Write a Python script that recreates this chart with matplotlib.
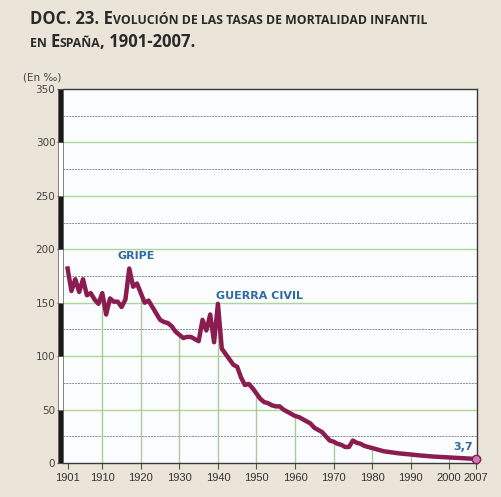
import numpy as np
import matplotlib.pyplot as plt
from matplotlib.patches import Rectangle

# infant mortality rate (per thousand)
years = [1901, 1902, 1903, 1904, 1905, 1906, 1907, 1908, 1909, 1910,
         1911, 1912, 1913, 1914, 1915, 1916, 1917, 1918, 1919, 1920,
         1921, 1922, 1923, 1924, 1925, 1926, 1927, 1928, 1929, 1930,
         1931, 1932, 1933, 1934, 1935, 1936, 1937, 1938, 1939, 1940,
         1941, 1942, 1943, 1944, 1945, 1946, 1947, 1948, 1949, 1950,
         1951, 1952, 1953, 1954, 1955, 1956, 1957, 1958, 1959, 1960,
         1961, 1962, 1963, 1964, 1965, 1966, 1967, 1968, 1969, 1970,
         1971, 1972, 1973, 1974, 1975, 1976, 1977, 1978, 1979, 1980,
         1981, 1982, 1983, 1984, 1985, 1986, 1987, 1988, 1989, 1990,
         1991, 1992, 1993, 1994, 1995, 1996, 1997, 1998, 1999, 2000,
         2001, 2002, 2003, 2004, 2005, 2006, 2007]
rates = [182, 161, 172, 160, 172, 157, 159, 153, 149, 159,
         139, 154, 151, 151, 146, 153, 182, 165, 168, 159,
         150, 152, 146, 140, 134, 132, 131, 128, 123, 120,
         117, 118, 118, 116, 114, 134, 124, 139, 113, 149,
         107, 102, 97, 92, 90, 80, 73, 74, 70, 65,
         60, 57, 56, 54, 53, 53, 50, 48, 46, 44,
         43, 41, 39, 37, 33, 31, 29, 25, 21, 20,
         18, 17, 15, 15, 21, 19, 18, 16, 15, 14,
         13, 12, 11, 10.5, 10, 9.5, 9, 8.7, 8.3, 8,
         7.6, 7.2, 6.9, 6.6, 6.3, 6.0, 5.8, 5.6, 5.4, 5.2,
         5.0, 4.8, 4.6, 4.4, 4.2, 4.0, 3.7]

xticks = [1901, 1910, 1920, 1930, 1940, 1950, 1960, 1970, 1980, 1990, 2000, 2007]
drop_years = [1910, 1920, 1930, 1940, 1950, 1960, 1970, 1980, 1990, 2000]
yticks = [0, 50, 100, 150, 200, 250, 300, 350]

paper = '#ebe5d9'
line_col = '#8a1c50'
blue = '#2f6aa3'
green = '#add69a'

fig = plt.figure(figsize=(5.01, 4.97), dpi=100, facecolor=paper)
ax = fig.add_axes([0.1257, 0.0684, 0.8263, 0.7525])
ax.set_facecolor('#fbfcfd')

ax.set_xlim(1899.8, 2007.2)
ax.set_ylim(0, 350)

# horizontal guide lines
for v in range(50, 301, 50):
    ax.axhline(v, color=green, lw=1.0, zorder=1)
for v in range(25, 326, 50):
    ax.axhline(v, color='#8a8a8a', lw=0.7, ls=(0, (2, 1)), zorder=1)

# vertical drop lines up to the curve
for yr in drop_years:
    ax.plot([yr, yr], [0, rates[years.index(yr)]], color='#a9cc98', lw=1.0, zorder=1)

ax.plot(years, rates, color=line_col, lw=3.2, solid_joinstyle='round', zorder=3)
ax.plot(years[-1], rates[-1], 'o', ms=6, mfc='#c97cb5', mec=line_col, mew=1, zorder=4,
        clip_on=False)

ax.text(1918.7, 189, 'GRIPE', color=blue, fontsize=8, fontweight='bold', ha='center', va='bottom')
ax.text(1950.8, 152, 'GUERRA CIVIL', color=blue, fontsize=8, fontweight='bold', ha='center', va='bottom')
ax.text(2003.6, 10, '3,7', color=blue, fontsize=8, fontweight='bold', ha='center', va='bottom')

for s in ['top', 'right', 'bottom']:
    ax.spines[s].set_color('#3a3a3a')
    ax.spines[s].set_linewidth(1.0)
ax.spines['left'].set_visible(False)

ax.set_xticks(xticks)
ax.set_xticklabels([str(t) for t in xticks], family='Liberation Sans',
                   fontsize=8, color='#333333')
ax.set_yticks(yticks)
ax.set_yticklabels([str(t) for t in yticks], fontsize=7.5, color='#444444')
ax.tick_params(axis='y', length=4, width=0.8, color='#555555', pad=1.5)
ax.tick_params(axis='x', length=4, width=0.8, color='#555555', pad=3)

# alternating black / white scale bar on the left
for i, v in enumerate(range(0, 350, 50)):
    col = '#1a1a1a' if i % 2 == 0 else 'white'
    ax.add_patch(Rectangle((-0.012, v / 350), 0.012, 50 / 350, transform=ax.transAxes,
                           facecolor=col, edgecolor='#555555', lw=0.5, clip_on=False, zorder=5))

fig.text(0.046, 0.838, '(En ‰)', fontsize=7.5, color='#444444')

# title in small caps
renderer = fig.canvas.get_renderer()
def small_caps(pieces, x, y):
    for s, big in pieces:
        t = fig.text(x, y, s, fontsize=12 if big else 8.8, fontweight='bold',
                     family='Open Sans', color='#2a2a2a', va='baseline')
        bb = t.get_window_extent(renderer)
        x += bb.width / fig.bbox.width

small_caps([('DOC. 23. E', True), ('VOLUCIÓN DE LAS TASAS DE MORTALIDAD INFANTIL', False)],
           0.06, 0.951)
small_caps([('EN ', False), ('E', True), ('SPAÑA', False), (', 1901-2007.', True)],
           0.06, 0.905)

fig.savefig('out.png', dpi=100, facecolor=paper)
